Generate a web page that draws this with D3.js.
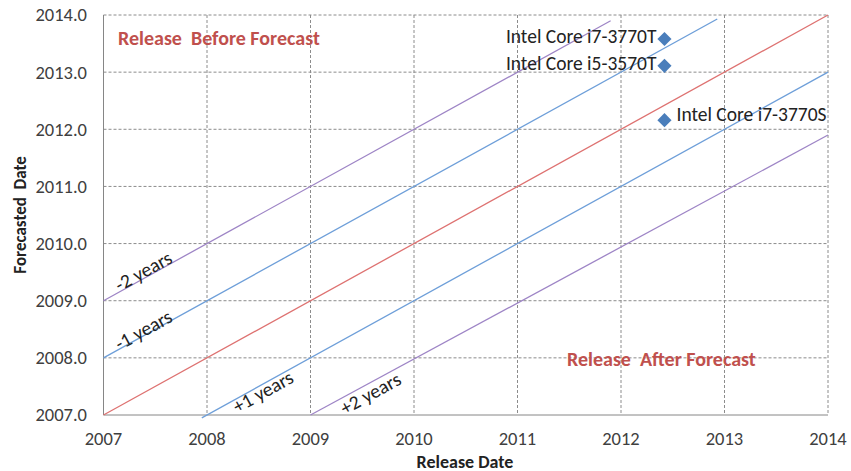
<!DOCTYPE html>
<html><head><meta charset="utf-8">
<script src="https://cdn.jsdelivr.net/npm/d3@7"></script>
<style>body{margin:0;background:#fff;} svg{display:block;}</style>
</head><body>
<svg id="c" width="851" height="471"></svg>
<script>
// Data
const xTicks = [2007, 2008, 2009, 2010, 2011, 2012, 2013, 2014];
const yTicks = [2007, 2008, 2009, 2010, 2011, 2012, 2013, 2014];
const lineMinus2 = [[2007, 2009], [2011.9, 2013.9]];
const lineMinus1 = [[2007, 2008], [2012.93, 2013.93]];
const lineZero   = [[2007, 2007], [2014, 2014]];
const linePlus1  = [[2007.95, 2006.95], [2014, 2013]];
const linePlus2  = [[2009, 2007], [2014, 2011.9]];
const lineLabels = ["-2 years", "-1 years", "+1 years", "+2 years"];
const cpuNames = ["Intel Core i7-3770T", "Intel Core i5-3570T", "Intel Core i7-3770S"];
const cpuRelease = [2012.42, 2012.42, 2012.42];
const cpuForecast = [2013.58, 2013.11, 2012.16];

(function () {
const svg = d3.select("#c");
const L = 103.5, R = 828, T = 15, B = 415;
const x = d3.scaleLinear().domain([2007, 2014]).range([L, R]);
const y = d3.scaleLinear().domain([2007, 2014]).range([B, T]);
const font = "Calibri, Carlito, 'Liberation Sans', Arial, sans-serif";
const textCol = "#404040";

// grid
const g = svg.append("g");
g.selectAll("line.gy").data(yTicks.filter(d => d > 2007)).join("line")
  .attr("x1", L).attr("x2", R).attr("y1", d => y(d)).attr("y2", d => y(d))
  .attr("stroke", "#8c8c8c").attr("stroke-width", 1).attr("stroke-dasharray", "3,2");
g.selectAll("line.gx").data(xTicks.filter(d => d > 2007)).join("line")
  .attr("y1", T).attr("y2", B).attr("x1", d => x(d)).attr("x2", d => x(d))
  .attr("stroke", "#8c8c8c").attr("stroke-width", 1).attr("stroke-dasharray", "3,2");

// axes (solid)
svg.append("line").attr("x1", L).attr("x2", L).attr("y1", T).attr("y2", B).attr("stroke", "#868686");
svg.append("line").attr("x1", L).attr("x2", R).attr("y1", B).attr("y2", B).attr("stroke", "#868686");

// tick labels
svg.selectAll("text.yt").data(yTicks).join("text")
  .attr("x", 87).attr("y", d => y(d)).attr("dy", "0.35em").attr("text-anchor", "end")
  .attr("font-family", font).attr("font-size", 18.5).attr("fill", textCol)
  .text(d => d.toFixed(1));
svg.selectAll("text.xt").data(xTicks).join("text")
  .attr("x", d => x(d)).attr("y", 445).attr("text-anchor", "middle")
  .attr("font-family", font).attr("font-size", 18.5).attr("fill", textCol)
  .text(d => d);

// axis titles
svg.append("text").attr("x", 465).attr("y", 467.5).attr("text-anchor", "middle")
  .attr("font-family", font).attr("font-size", 18).attr("font-weight", "bold").attr("fill", "#222")
  .text("Release Date");
svg.append("text").attr("transform", "translate(26,215) rotate(-90)").attr("text-anchor", "middle")
  .attr("font-family", font).attr("font-size", 17).attr("font-weight", "bold").attr("fill", "#222")
  .style("white-space", "pre")
  .text("Forecasted  Date");

// lines
const lineGen = d3.line().x(d => x(d[0])).y(d => y(d[1]));
const lines = [
  {d: lineMinus2, c: "#9E85C6"},
  {d: lineMinus1, c: "#6E9FD9"},
  {d: lineZero, c: "#DE7271"},
  {d: linePlus1, c: "#6E9FD9"},
  {d: linePlus2, c: "#9E85C6"}
];
svg.append("g").selectAll("path").data(lines).join("path")
  .attr("d", d => lineGen(d.d)).attr("fill", "none").attr("stroke", d => d.c).attr("stroke-width", 1.3);

// line labels
const ang = -Math.atan((y(2007) - y(2008)) / (x(2008) - x(2007))) * 180 / Math.PI;
const lblPos = [[2007.385, 2009.52], [2007.385, 2008.49], [2008.54, 2007.41], [2009.58, 2007.38]];
svg.selectAll("text.ll").data(lineLabels).join("text")
  .attr("transform", (d, i) => `translate(${x(lblPos[i][0])},${y(lblPos[i][1])}) rotate(${ang})`)
  .attr("text-anchor", "middle").attr("dy", "0.35em")
  .attr("font-family", font).attr("font-size", 19.5).attr("fill", "#222")
  .text(d => d);

// region labels
svg.append("text").attr("x", 118).attr("y", 44.5)
  .attr("font-family", font).attr("font-size", 20).attr("font-weight", "bold").attr("fill", "#C0504D")
  .style("white-space", "pre")
  .text("Release  Before Forecast");
svg.append("text").attr("x", 567).attr("y", 365.5)
  .attr("font-family", font).attr("font-size", 20).attr("font-weight", "bold").attr("fill", "#C0504D")
  .style("white-space", "pre")
  .text("Release  After Forecast");

// diamonds
svg.selectAll("path.pt").data(cpuNames).join("path")
  .attr("d", d3.symbol().type(d3.symbolSquare).size(100))
  .attr("transform", (d, i) => `translate(${x(cpuRelease[i])},${y(cpuForecast[i])}) rotate(45)`)
  .attr("fill", "#4A7EBB");
const lblDy = [-3, -3, -6];
svg.selectAll("text.pl").data(cpuNames).join("text")
  .attr("x", (d, i) => i < 2 ? x(cpuRelease[i]) - 8 : x(cpuRelease[i]) + 12)
  .attr("y", (d, i) => y(cpuForecast[i]) + lblDy[i]).attr("dy", "0.35em")
  .attr("text-anchor", (d, i) => i < 2 ? "end" : "start")
  .attr("font-family", font).attr("font-size", 19.5).attr("fill", "#222")
  .text(d => d);
})();
</script>
</body></html>
